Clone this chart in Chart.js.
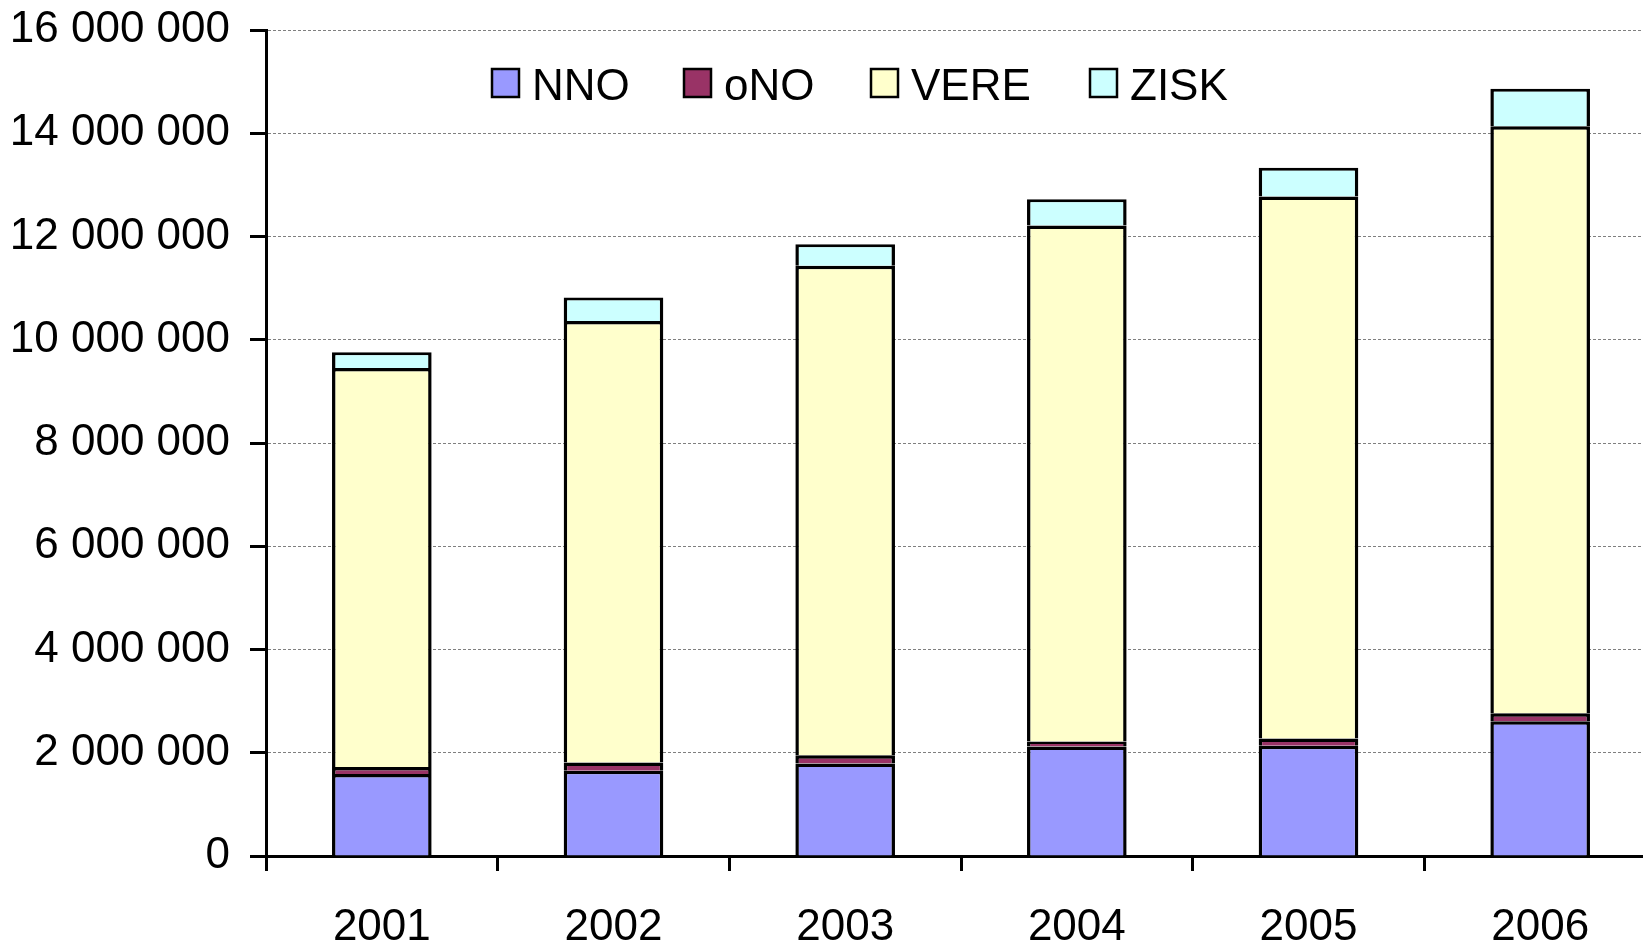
<!DOCTYPE html>
<html>
<head>
<meta charset="utf-8">
<script src="https://cdn.jsdelivr.net/npm/chart.js@4"></script>
<style>
  html, body { margin: 0; padding: 0; background: #fff; overflow: hidden; }
  #wrap { width: 1660px; height: 944px; }
</style>
</head>
<body>
<div id="wrap"><canvas id="chart" width="1660" height="944"></canvas></div>
<script>
// values
const years = ['2001', '2002', '2003', '2004', '2005', '2006'];
const nno  = [1590000, 1653000, 1793000, 2123000, 2134000, 2612000];
const ono  = [133000, 159000, 158000, 95000, 141000, 152000];
const vere = [7731000, 8552000, 9483000, 9996000, 10499000, 11370000];
const zisk = [306000, 456000, 416000, 506000, 556000, 726000];

const yMax = 16000000;
const yStep = 2000000;

const FONT = '"Liberation Sans", Arial, sans-serif';
Chart.defaults.font.family = FONT;
Chart.defaults.font.size = 44;
Chart.defaults.color = '#000';

function spaced(v) {
  return String(v).replace(/\B(?=(\d{3})+(?!\d))/g, ' ');
}

// each segment draws its own top edge, so the joins are one line thick
const segBorder = { top: 3.5, bottom: 0, left: 3.5, right: 3.5 };

function series(label, data, color, bw) {
  return {
    label, data,
    backgroundColor: color,
    borderColor: '#000',
    borderWidth: bw || segBorder,
    borderSkipped: false,
    inflateAmount: 0,
    categoryPercentage: 1,
    barPercentage: 0.43
  };
}

// legend drawn inside the plot, like the original
const legendInPlot = {
  id: 'legendInPlot',
  afterDraw(chart) {
    const ctx = chart.ctx;
    const xs = [492, 684, 871, 1090];
    ctx.save();
    ctx.font = '44px ' + FONT;
    ctx.textBaseline = 'alphabetic';
    chart.data.datasets.forEach((ds, i) => {
      const x = xs[i];
      ctx.fillStyle = ds.backgroundColor;
      ctx.fillRect(x, 69, 27, 28);
      ctx.lineWidth = 2.5;
      ctx.strokeStyle = '#000';
      ctx.strokeRect(x, 69, 27, 28);
      ctx.fillStyle = '#000';
      ctx.fillText(ds.label, x + 40, 100);
    });
    ctx.restore();
  }
};

new Chart(document.getElementById('chart'), {
  type: 'bar',
  data: {
    labels: years,
    datasets: [
      series('NNO', nno, '#9999FF'),
      series('oNO', ono, '#993366'),
      series('VERE', vere, '#FFFFCC'),
      series('ZISK', zisk, '#CCFFFF', { top: 3, bottom: 0, left: 3.5, right: 3.5 })
    ]
  },
  options: {
    responsive: false,
    animation: false,
    layout: { padding: { top: 30, right: 4, bottom: 0, left: 0 } },
    plugins: {
      legend: { display: false },
      tooltip: { enabled: false }
    },
    scales: {
      x: {
        stacked: true,
        afterFit(scale) {
          scale.height = 88;
          scale.paddingLeft = 0;
          scale.paddingRight = 0;
        },
        grid: {
          offset: true,
          drawOnChartArea: false,
          drawTicks: true,
          tickLength: 15,
          tickColor: '#000',
          tickWidth: 3
        },
        border: { color: '#000', width: 3 },
        ticks: { padding: 30, font: { size: 44 } }
      },
      y: {
        stacked: true,
        min: 0,
        max: yMax,
        afterFit(scale) {
          scale.width = 266;
          scale.paddingTop = 0;
          scale.paddingBottom = 0;
        },
        grid: {
          color: '#7f7f7f',
          lineWidth: 1,
          tickLength: 16,
          tickColor: '#000',
          tickWidth: 3
        },
        border: { color: '#000', width: 3, dash: [3, 2] },
        ticks: {
          stepSize: yStep,
          padding: 20,
          font: { size: 44 },
          callback: v => spaced(v)
        }
      }
    }
  },
  plugins: [legendInPlot]
});
</script>
</body>
</html>
